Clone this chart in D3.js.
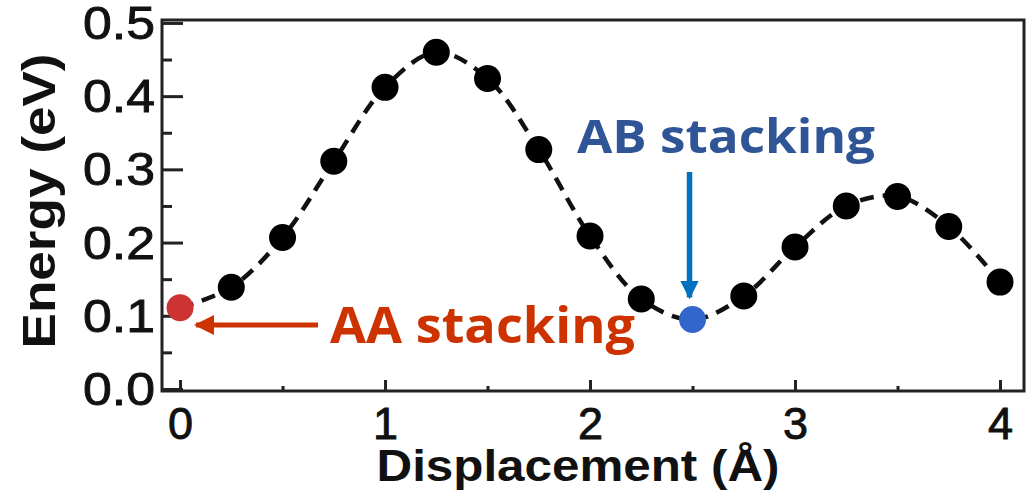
<!DOCTYPE html>
<html>
<head>
<meta charset="utf-8">
<script src="https://cdn.jsdelivr.net/npm/d3@7"></script>
<style>
  html, body { margin: 0; padding: 0; background: #fff; }
  svg { display: block; }
</style>
</head>
<body>
<svg id="chart" width="1035" height="495"></svg>
<script>
// ---- data ----
const displacement = [0, 0.25, 0.5, 0.75, 1.0, 1.25, 1.5, 1.75, 2.0, 2.25, 2.5, 2.75, 3.0, 3.25, 3.5, 3.75, 4.0];
const energy = [0.111, 0.139, 0.207, 0.311, 0.412, 0.460, 0.424, 0.327, 0.209, 0.123, 0.095, 0.127, 0.194, 0.250, 0.263, 0.222, 0.146];
const xTickValues = [0, 1, 2, 3, 4];
const xMinorTicks = [0.5, 1.5, 2.5, 3.5];
const yTickValues = [0.0, 0.1, 0.2, 0.3, 0.4, 0.5];
const yMinorTicks = [0.05, 0.15, 0.25, 0.35, 0.45];
const aaIndex = 0;   // AA stacking point
const abIndex = 10;  // AB stacking point
const xLabel = "Displacement (Å)";
const yLabel = "Energy (eV)";
const aaText = "AA stacking";
const abText = "AB stacking";

// ---- layout ----
const pLeft = 162, pRight = 1024, pTop = 20, pBottom = 391;
const svg = d3.select("#chart");

const x = d3.scaleLinear().domain([-0.088, 4.117]).range([pLeft, pRight]);
const y = d3.scaleLinear().domain([-0.0014, 0.504]).range([pBottom - 1, pTop]);

// frame
svg.append("rect")
  .attr("x", pLeft).attr("y", pTop)
  .attr("width", pRight - pLeft).attr("height", pBottom - pTop)
  .attr("fill", "none").attr("stroke", "#222").attr("stroke-width", 3);

// y axis major
const yAxis = svg.append("g")
  .attr("transform", `translate(${pLeft},0)`)
  .call(d3.axisLeft(y).tickValues(yTickValues).tickSize(-21).tickPadding(7).tickFormat(d3.format(".1f")));
yAxis.select(".domain").remove();
yAxis.selectAll("line").attr("stroke", "#222").attr("stroke-width", 3);
yAxis.selectAll("text")
  .attr("font-family", "Liberation Sans, Arial, sans-serif")
  .attr("font-size", 46).attr("fill", "#111").attr("dy", "0.34em")
  .attr("stroke", "#111").attr("stroke-width", 0.9)
  .attr("textLength", 72).attr("lengthAdjust", "spacingAndGlyphs");

// y axis minor
const yMinor = svg.append("g")
  .attr("transform", `translate(${pLeft},0)`)
  .call(d3.axisLeft(y).tickValues(yMinorTicks).tickSize(-10).tickFormat(""));
yMinor.select(".domain").remove();
yMinor.selectAll("line").attr("stroke", "#222").attr("stroke-width", 3);

// x axis major
const xAxis = svg.append("g")
  .attr("transform", `translate(0,${pBottom})`)
  .call(d3.axisBottom(x).tickValues(xTickValues).tickSize(-11).tickPadding(16).tickFormat(d3.format("d")));
xAxis.select(".domain").remove();
xAxis.selectAll("line").attr("stroke", "#222").attr("stroke-width", 3);
xAxis.selectAll("text")
  .attr("font-family", "Liberation Sans, Arial, sans-serif")
  .attr("font-size", 45).attr("fill", "#111")
  .attr("stroke", "#111").attr("stroke-width", 0.9);

// x axis minor
const xMinor = svg.append("g")
  .attr("transform", `translate(0,${pBottom})`)
  .call(d3.axisBottom(x).tickValues(xMinorTicks).tickSize(-5).tickFormat(""));
xMinor.select(".domain").remove();
xMinor.selectAll("line").attr("stroke", "#222").attr("stroke-width", 3);

// axis labels
svg.append("text")
  .attr("x", 578).attr("y", 481)
  .attr("text-anchor", "middle")
  .attr("font-family", "Liberation Sans, Arial, sans-serif")
  .attr("font-weight", "bold").attr("font-size", 45).attr("fill", "#111")
  .attr("textLength", 403).attr("lengthAdjust", "spacingAndGlyphs")
  .text(xLabel);

svg.append("text")
  .attr("transform", "translate(55,201) rotate(-90)")
  .attr("text-anchor", "middle")
  .attr("font-family", "Liberation Sans, Arial, sans-serif")
  .attr("font-weight", "bold").attr("font-size", 47).attr("fill", "#111")
  .attr("textLength", 295).attr("lengthAdjust", "spacingAndGlyphs")
  .text(yLabel);

// data
const pts = displacement.map((d, i) => ({ x: d, y: energy[i], i }));
const line = d3.line().x(d => x(d.x)).y(d => y(d.y)).curve(d3.curveCatmullRom);
svg.append("path")
  .attr("d", line(pts))
  .attr("fill", "none").attr("stroke", "#111")
  .attr("stroke-width", 4.5).attr("stroke-dasharray", "14,9");

svg.append("g").selectAll("circle")
  .data(pts)
  .join("circle")
  .attr("cx", d => x(d.x)).attr("cy", d => y(d.y))
  .attr("r", 13.5)
  .attr("fill", d => d.i === aaIndex ? "#cc3333" : d.i === abIndex ? "#3366cc" : "#000");

// annotations
svg.append("defs").html(`
  <marker id="headRed" viewBox="0 0 10 10" refX="9" refY="5" markerWidth="4" markerHeight="4" markerUnits="strokeWidth" orient="auto">
    <path d="M0,0 L10,5 L0,10 z" fill="#cc3300"/>
  </marker>
  <marker id="headBlue" viewBox="0 0 10 10" refX="9" refY="5" markerWidth="3.4" markerHeight="3.4" markerUnits="strokeWidth" orient="auto">
    <path d="M0,0 L10,5 L0,10 z" fill="#0070c0"/>
  </marker>`);

const aaPt = pts[aaIndex], abPt = pts[abIndex];

svg.append("line")
  .attr("x1", 318).attr("y1", 325)
  .attr("x2", x(aaPt.x) + 16).attr("y2", 325)
  .attr("stroke", "#cc3300").attr("stroke-width", 5)
  .attr("marker-end", "url(#headRed)");

svg.append("text")
  .attr("x", 330).attr("y", 343)
  .attr("font-family", "Open Sans, Noto Sans, sans-serif")
  .attr("font-weight", "bold").attr("font-size", 50).attr("fill", "#cc3300")
  .attr("textLength", 305).attr("lengthAdjust", "spacingAndGlyphs")
  .text(aaText);

svg.append("line")
  .attr("x1", x(abPt.x) - 3).attr("y1", 172)
  .attr("x2", x(abPt.x) - 3).attr("y2", y(abPt.y) - 22)
  .attr("stroke", "#0070c0").attr("stroke-width", 5.5)
  .attr("marker-end", "url(#headBlue)");

svg.append("text")
  .attr("x", 577).attr("y", 153)
  .attr("font-family", "Open Sans, Noto Sans, sans-serif")
  .attr("font-weight", "bold").attr("font-size", 46).attr("fill", "#2f5597")
  .attr("textLength", 298).attr("lengthAdjust", "spacingAndGlyphs")
  .text(abText);
</script>
</body>
</html>
